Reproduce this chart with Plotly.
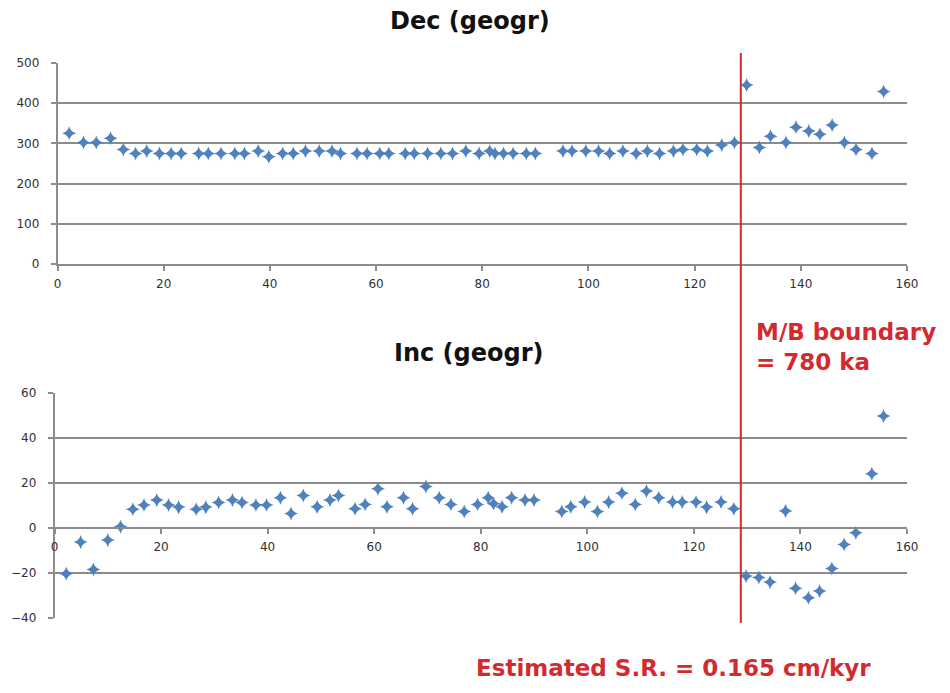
import plotly.graph_objects as go

# Sample depths (cm) and palaeomagnetic directions in geographic coordinates
depth_cm = [2.2, 4.9, 7.3, 10.0, 12.4, 14.7, 16.8, 19.2, 21.4, 23.3,
            26.6, 28.4, 30.8, 33.4, 35.2, 37.8, 39.8, 42.4, 44.4, 46.7,
            49.3, 51.7, 53.3, 56.4, 58.3, 60.7, 62.4, 65.5, 67.2, 69.7,
            72.2, 74.4, 76.9, 79.4, 81.4, 82.4, 84.0, 85.8, 88.3, 90.0,
            95.2, 96.9, 99.5, 101.9, 104.0, 106.5, 109.0, 111.1, 113.4, 116.0,
            117.8, 120.4, 122.4, 125.1, 127.5, 129.8, 132.2, 134.3, 137.2, 139.1,
            141.5, 143.6, 145.9, 148.2, 150.4, 153.4, 155.6]

dec_deg = [325, 302, 302, 313, 285, 275, 281, 275, 275, 275,
           275, 275, 275, 275, 275, 281, 267, 275, 275, 281,
           281, 281, 275, 275, 275, 275, 275, 275, 275, 275,
           275, 275, 281, 275, 281, 275, 275, 275, 275, 275,
           281, 281, 281, 281, 275, 281, 275, 281, 275, 281,
           285, 285, 281, 296, 302, 445, 290, 318, 302, 340,
           331, 323, 346, 302, 285, 275, 429]

inc_deg = [-20.3, -6.2, -18.4, -5.3, 0.6, 8.3, 10.2, 12.4, 10.2, 9.3,
           8.3, 9.3, 11.3, 12.4, 11.3, 10.2, 10.2, 13.5, 6.4, 14.5,
           9.4, 12.4, 14.5, 8.6, 10.5, 17.5, 9.5, 13.5, 8.6, 18.4,
           13.5, 10.5, 7.3, 10.5, 13.5, 10.8, 9.5, 13.5, 12.4, 12.4,
           7.3, 9.5, 11.6, 7.3, 11.6, 15.4, 10.5, 16.4, 13.5, 11.6,
           11.6, 11.6, 9.3, 11.6, 8.6, -21.3, -22.0, -24.0, 7.6, -26.8,
           -31.0, -28.0, -18.0, -7.3, -2.1, 24.1, 49.8]

x_ticks = [0, 20, 40, 60, 80, 100, 120, 140, 160]
dec_ticks = [0, 100, 200, 300, 400, 500]
inc_ticks = [-40, -20, 0, 20, 40, 60]

mb_age_ka = 780
sed_rate = 0.165  # cm/kyr
mb_depth = mb_age_ka * sed_rate  # depth of the M/B boundary in cm

W, H = 950, 693
BLUE = "#4F81BD"
GRID = "#8C8C8C"
RED = "#D42A2F"
FONT = "DejaVu Sans, Noto Sans, sans-serif"
TICKFONT = dict(family=FONT, size=12, color="#303030")


def py(px):
    return 1 - px / H


def px_x(px):
    return px / W


top_dom = [py(264), py(63)]
bot_dom = [py(618), py(393)]
inc_zero_pos = bot_dom[0] + (0 - (-40)) / 100 * (bot_dom[1] - bot_dom[0])

marker = dict(symbol="star-diamond", size=10, color=BLUE, line=dict(width=0))

fig = go.Figure()
fig.add_trace(go.Scatter(x=depth_cm, y=dec_deg, mode="markers", marker=marker,
                         xaxis="x", yaxis="y", name="Dec", showlegend=False))
fig.add_trace(go.Scatter(x=depth_cm, y=inc_deg, mode="markers", marker=marker,
                         xaxis="x2", yaxis="y2", name="Inc", showlegend=False))

axis_common = dict(showline=True, linecolor=GRID, linewidth=1.5,
                   ticks="outside", ticklen=5, tickcolor=GRID, tickwidth=1.5,
                   tickfont=TICKFONT, zeroline=False, automargin=False)

fig.update_layout(
    template="none",
    width=W, height=H, autosize=False,
    margin=dict(l=0, r=0, t=0, b=0, pad=0, autoexpand=False),
    paper_bgcolor="white", plot_bgcolor="white",
    xaxis=dict(domain=[px_x(57.5), px_x(907)], range=[0, 160],
               tickvals=x_ticks, showgrid=False, anchor="y",
               ticklabelstandoff=3, **axis_common),
    yaxis=dict(domain=top_dom, range=[0, 500], tickvals=dec_ticks,
               showgrid=True, gridcolor=GRID, gridwidth=1.5, anchor="x",
               ticklabelstandoff=9, **axis_common),
    xaxis2=dict(domain=[px_x(54.5), px_x(907)], range=[0, 160],
                tickvals=x_ticks, showgrid=False, anchor="free",
                position=inc_zero_pos, ticklabelstandoff=3, **axis_common),
    yaxis2=dict(domain=bot_dom, range=[-40, 60], tickvals=inc_ticks,
                showgrid=True, gridcolor=GRID, gridwidth=1.5, anchor="x2",
                ticklabelstandoff=9, **axis_common),
)

# Brunhes/Matuyama boundary marker spanning both panels
fig.add_shape(type="line", xref="x", yref="paper", x0=mb_depth, x1=mb_depth,
              y0=py(623), y1=py(53), line=dict(color=RED, width=2), layer="above")

title_font = dict(family=FONT, size=24, color="#111111")
red_font = dict(family=FONT, size=23, color=RED)

fig.add_annotation(text="<b>Dec (geogr)</b>", xref="paper", yref="paper",
                   x=px_x(470), y=py(21), xanchor="center", yanchor="middle",
                   showarrow=False, font=title_font)
fig.add_annotation(text="<b>Inc (geogr)</b>", xref="paper", yref="paper",
                   x=px_x(469), y=py(353), xanchor="center", yanchor="middle",
                   showarrow=False, font=title_font)
fig.add_annotation(text="<b>M/B boundary<br>= 780 ka</b>", xref="paper", yref="paper",
                   x=px_x(754), y=py(347), xanchor="left", yanchor="middle",
                   align="left", showarrow=False, font=red_font)
fig.add_annotation(text="<b>Estimated S.R. = 0.165 cm/kyr</b>", xref="paper", yref="paper",
                   x=px_x(474), y=py(668), xanchor="left", yanchor="middle",
                   showarrow=False, font=red_font)

fig.write_html("out.html")
